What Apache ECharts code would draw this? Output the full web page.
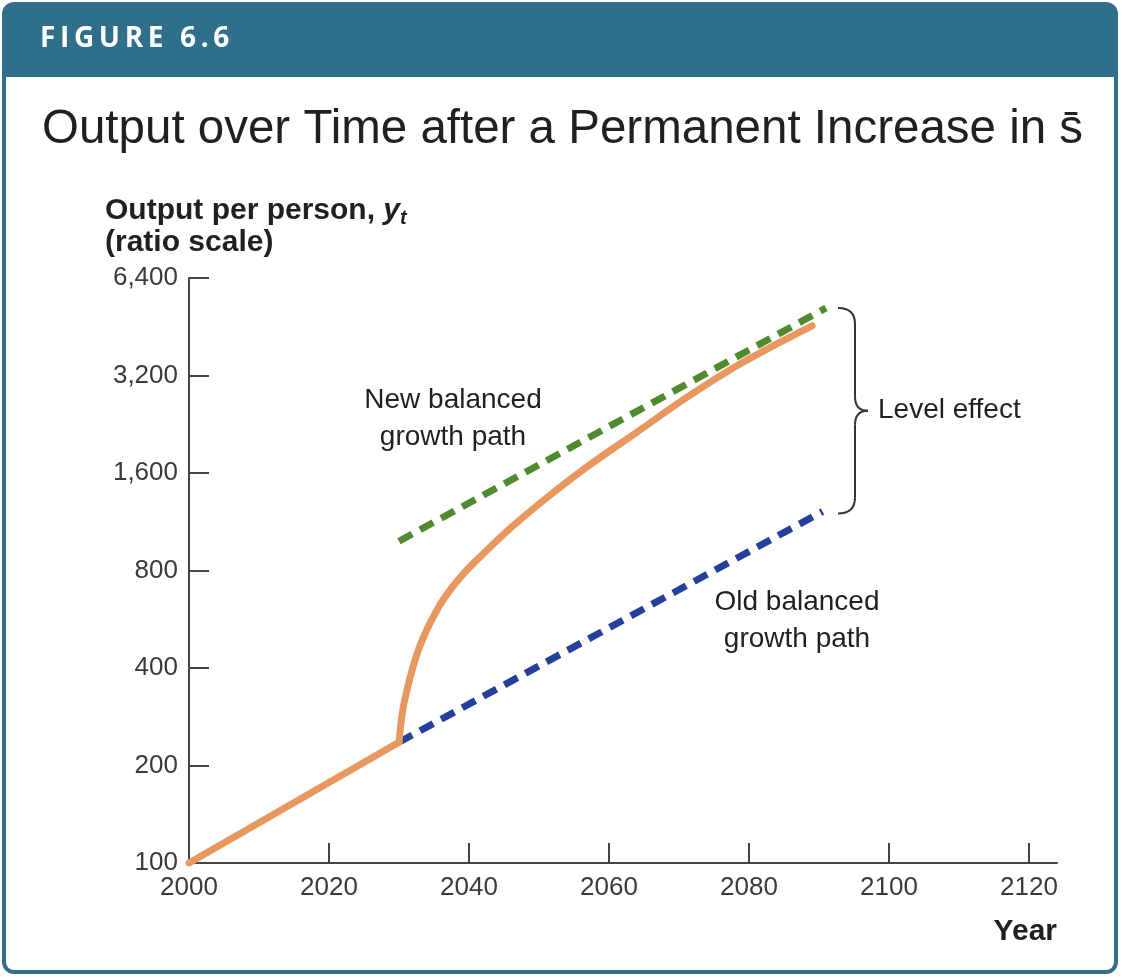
<!DOCTYPE html>
<html>
<head>
<meta charset="utf-8">
<script src="https://cdn.jsdelivr.net/npm/echarts@6/dist/echarts.min.js"></script>
<style>
  html, body { margin: 0; padding: 0; background: #fff; }
  #main { width: 1122px; height: 978px; }
</style>
</head>
<body>
<div id="main"></div>
<script>
// axis ticks
var xTicks = [2000, 2020, 2040, 2060, 2080, 2100, 2120];
var yTicks = [100, 200, 400, 800, 1600, 3200, 6400];

// actual output per person: old path up to 2030
var pathYears = [2000, 2030];
var pathValues = [100, 236];

// transition after the rise in s (2030 on)
var transYears = [2030, 2030.5, 2031, 2032, 2033, 2034.5, 2036.5, 2039, 2042, 2046, 2051, 2057, 2064, 2071, 2079, 2089];
var transValues = [236, 293, 332, 403, 469, 554, 659, 773, 900, 1085, 1336, 1680, 2140, 2728, 3502, 4557];

// balanced growth paths
var newPathYears = [2030, 2091];
var newPathValues = [985, 5170];
var oldPathYears = [2030, 2090.5];
var oldPathValues = [236, 1217];

var FONT = "'Liberation Sans', Arial, sans-serif";
var TEAL = '#2f6f89';
var INK = '#231f20';

function pairs(xs, ys) {
  return xs.map(function (x, i) { return [x, ys[i]]; });
}

var chart = echarts.init(document.getElementById('main'), null, { renderer: 'canvas' });

var option = {
  backgroundColor: '#fff',
  animation: false,
  title: [{
    text: 'Output over Time after a Permanent Increase in s\u0304',
    left: 37, top: 101,
    textStyle: { fontFamily: FONT, fontSize: 47.5, fontWeight: 'normal', color: INK }
  }, {
    text: '{b|Output per person, }{i|y}{s|t}\n{b|(ratio scale)}',
    left: 100, top: 190,
    textStyle: {
      rich: {
        b: { fontFamily: FONT, fontSize: 30, fontWeight: 'bold', color: INK, lineHeight: 32 },
        i: { fontFamily: FONT, fontSize: 30, fontWeight: 'bold', fontStyle: 'italic', color: INK, lineHeight: 32 },
        s: { fontFamily: FONT, fontSize: 20, fontWeight: 'bold', fontStyle: 'italic', color: INK, padding: [14, 0, 0, 0], lineHeight: 32 }
      }
    }
  }],
  grid: { left: 189, right: 65, top: 278, bottom: 115 },
  xAxis: {
    type: 'value',
    min: 2000, max: 2124,
    name: 'Year',
    nameLocation: 'end',
    nameGap: 0,
    nameTextStyle: {
      fontFamily: FONT, fontSize: 30, fontWeight: 'bold', color: INK,
      align: 'right', verticalAlign: 'top', padding: [54, 0, 0, 0]
    },
    axisLine: { show: true, lineStyle: { color: '#444', width: 2 } },
    axisTick: { show: true, inside: true, length: 20, customValues: xTicks, lineStyle: { color: '#444', width: 2 } },
    axisLabel: {
      customValues: xTicks,
      margin: 12,
      fontFamily: FONT, fontSize: 26, color: '#3a3a3a',
      formatter: function (v) { return String(v); }
    },
    splitLine: { show: false }
  },
  yAxis: {
    type: 'log',
    logBase: 2,
    min: 100, max: 6400,
    axisLine: { show: true, lineStyle: { color: '#444', width: 2 } },
    axisTick: { show: true, inside: true, length: 20, customValues: yTicks, lineStyle: { color: '#444', width: 2 } },
    axisLabel: {
      customValues: yTicks,
      margin: 11,
      fontFamily: FONT, fontSize: 26, color: '#3a3a3a',
      formatter: function (v) { return Math.round(v).toLocaleString('en-US'); }
    },
    splitLine: { show: false }
  },
  series: [{
    name: 'Old balanced growth path',
    type: 'line',
    data: pairs(oldPathYears, oldPathValues),
    symbol: 'none',
    z: 2,
    lineStyle: { color: '#263f9c', width: 7, type: [15, 9] }
  }, {
    name: 'Output',
    type: 'line',
    data: pairs(pathYears, pathValues),
    symbol: 'none',
    z: 3,
    lineStyle: { color: '#e8975f', width: 7, cap: 'round', join: 'round' }
  }, {
    name: 'Output transition',
    type: 'line',
    data: pairs(transYears, transValues),
    symbol: 'none',
    smooth: 0.35,
    z: 3,
    lineStyle: { color: '#e8975f', width: 7, cap: 'round', join: 'round' }
  }, {
    name: 'New balanced growth path',
    type: 'line',
    data: pairs(newPathYears, newPathValues),
    symbol: 'none',
    z: 4,
    lineStyle: { color: '#4f8a2f', width: 7, type: [15, 9] }
  }]
};

chart.setOption(option);

// brace between the two paths at their right ends
var topEnd = chart.convertToPixel({ gridIndex: 0 }, [newPathYears[1], newPathValues[1]]);
var botEnd = chart.convertToPixel({ gridIndex: 0 }, [oldPathYears[1], oldPathValues[1]]);
var bx0 = topEnd[0] + 12, bx1 = bx0 + 17, bxt = bx0 + 30;
var yT = topEnd[1], yB = botEnd[1] + 2, yM = (yT + yB) / 2;
var braceStyle = { stroke: '#333', lineWidth: 2, fill: null };

function curve(x1, y1, cx, cy, x2, y2) {
  return { type: 'bezierCurve', z: 10, silent: true,
    shape: { x1: x1, y1: y1, x2: x2, y2: y2, cpx1: cx, cpy1: cy }, style: braceStyle };
}
function seg(x1, y1, x2, y2) {
  return { type: 'line', z: 10, silent: true,
    shape: { x1: x1, y1: y1, x2: x2, y2: y2 }, style: braceStyle };
}

var noteStyle = { fontFamily: FONT, fontSize: 28, fill: INK, align: 'center', lineHeight: 37 };
var sp = '\u2009';

chart.setOption({
  graphic: [{
    type: 'rect', z: -10, silent: true,
    shape: { x: 4, y: 4, width: 1112, height: 968, r: 10 },
    style: { fill: '#fff', stroke: TEAL, lineWidth: 4 }
  }, {
    type: 'rect', z: -9, silent: true,
    shape: { x: 4, y: 4, width: 1112, height: 73, r: [10, 10, 0, 0] },
    style: { fill: TEAL }
  }, {
    type: 'text', z: 10, x: 40, y: 39,
    style: {
      text: ['F', 'I', 'G', 'U', 'R', 'E', ' ', '6', '.', '6'].join(sp),
      fontFamily: "'Open Sans', 'DejaVu Sans', sans-serif", fontSize: 28, fontWeight: 'bold',
      fill: '#fff', verticalAlign: 'middle'
    }
  }, {
    type: 'text', z: 10, x: 453, y: 382,
    style: Object.assign({ text: 'New balanced\ngrowth path' }, noteStyle)
  }, {
    type: 'text', z: 10, x: 797, y: 584,
    style: Object.assign({ text: 'Old balanced\ngrowth path' }, noteStyle)
  },
  curve(bx0, yT, bx1, yT, bx1, yT + 16),
  seg(bx1, yT + 16, bx1, yM - 14),
  curve(bx1, yM - 14, bx1, yM, bxt, yM),
  curve(bxt, yM, bx1, yM, bx1, yM + 14),
  seg(bx1, yM + 14, bx1, yB - 16),
  curve(bx1, yB - 16, bx1, yB, bx0, yB),
  {
    type: 'text', z: 10, x: bxt + 10, y: yM,
    style: { text: 'Level effect', fontFamily: FONT, fontSize: 28, fill: INK, verticalAlign: 'middle' }
  }]
});
</script>
</body>
</html>
